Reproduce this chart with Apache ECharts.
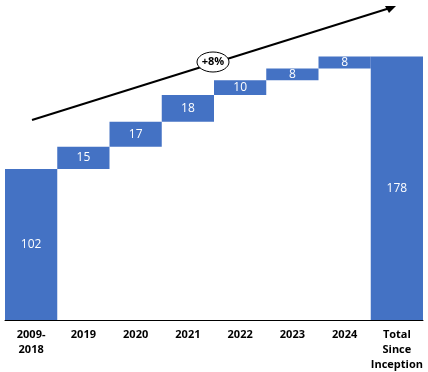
<!DOCTYPE html>
<html><head><meta charset="utf-8">
<script src="https://cdn.jsdelivr.net/npm/echarts@6/dist/echarts.min.js"></script>
<style>html,body{margin:0;padding:0;background:#fff}#c{width:428px;height:372px}</style>
</head><body><div id="c"></div>
<script>
const categories = ['2009-\n2018','2019','2020','2021','2022','2023','2024','Total\nSince\nInception'];
const values = [102,15,17,18,10,8,8,178];
const isTotal = [false,false,false,false,false,false,false,true];
const growthLabel = '+8%';

const base = [];
let run = 0;
values.forEach((v,i)=>{ if(isTotal[i]||i===0){base.push(0); run = isTotal[i]?run:v;} else {base.push(run); run+=v;} });

const chart = echarts.init(document.getElementById('c'));
chart.setOption({
  animation:false,
  grid:{left:5,right:5,top:24,bottom:48},
  xAxis:{type:'category',data:categories,
    axisLine:{lineStyle:{color:'#000',width:1}},axisTick:{show:false},
    axisLabel:{color:'#000',fontWeight:'bold',fontSize:11,fontFamily:'Open Sans',lineHeight:15,margin:7,interval:0}},
  yAxis:{type:'value',min:0,max:200,show:false,splitLine:{show:false}},
  series:[
    {type:'bar',stack:'w',data:base,itemStyle:{color:'transparent'},barCategoryGap:0,silent:true},
    {type:'bar',stack:'w',data:values,barCategoryGap:0,itemStyle:{color:'#4472C4'},
     label:{show:true,position:'inside',color:'#fff',fontSize:12,fontFamily:'Open Sans'}}
  ],
  graphic:[
    {type:'line',shape:{x1:32,y1:120,x2:390,y2:8},style:{stroke:'#000',lineWidth:2}},
    {type:'polygon',shape:{points:[[396,6],[385,6],[389,13]]},style:{fill:'#000'}},
    {type:'ellipse',shape:{cx:213,cy:62,rx:16,ry:10},style:{fill:'#fff',stroke:'#000',lineWidth:1}},
    {type:'text',x:213,y:62,style:{text:growthLabel,font:'bold 11px Open Sans',fill:'#000',align:'center',verticalAlign:'middle'}}
  ]
});
</script></body></html>
